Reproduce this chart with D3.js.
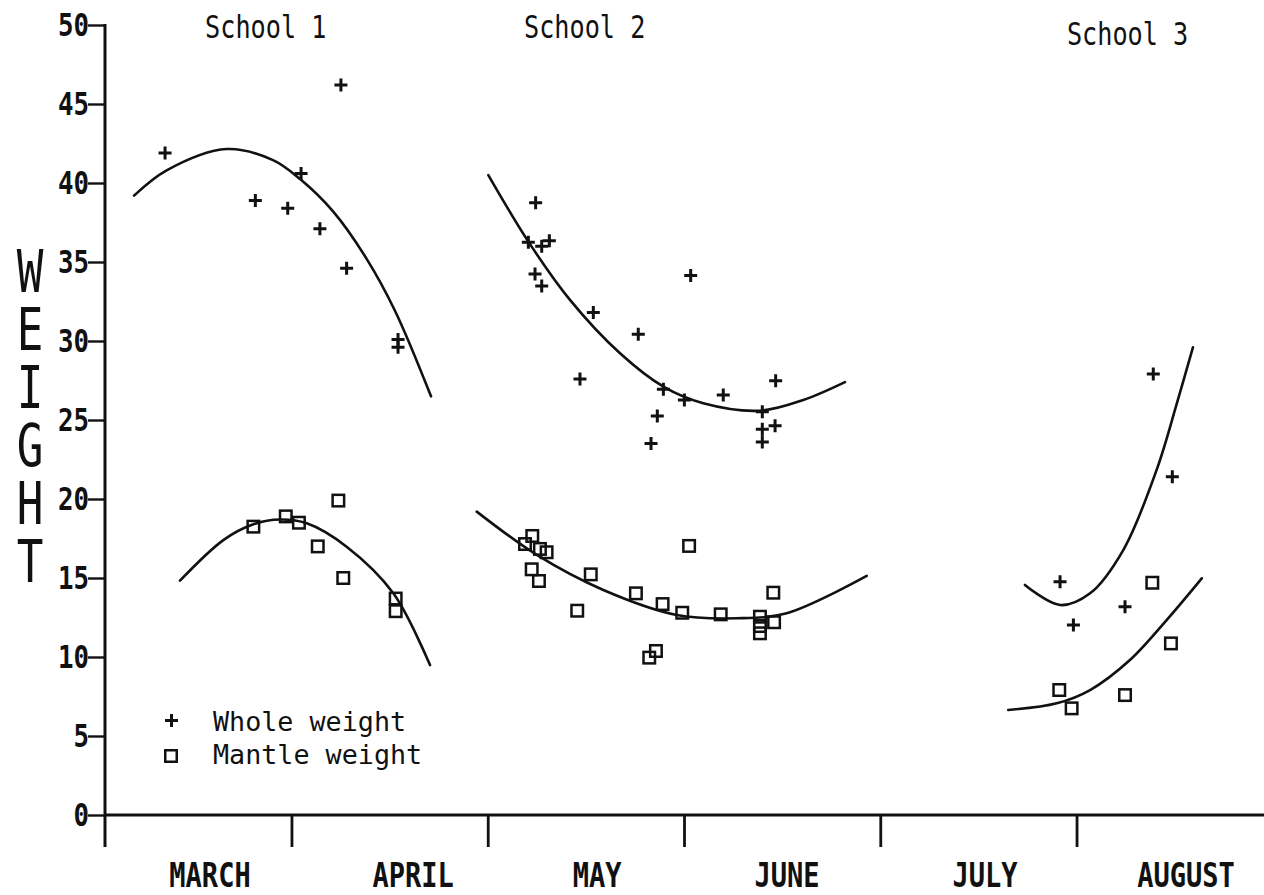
<!DOCTYPE html>
<html>
<head>
<meta charset="utf-8">
<script src="https://cdn.jsdelivr.net/npm/d3@7"></script>
<style>
  html, body { margin: 0; padding: 0; background: #fff; }
  svg { display: block; }
  text { font-family: "DejaVu Sans Mono", "Liberation Mono", monospace; fill: #111; }
</style>
</head>
<body>
<script>
// ---- Data (x in months: 3 = start of March, 4 = start of April, ...) ----
const yTicks = [0, 5, 10, 15, 20, 25, 30, 35, 40, 45, 50];
const monthBounds = [4, 5, 6, 7, 8];
const monthNames = ["MARCH", "APRIL", "MAY", "JUNE", "JULY", "AUGUST"];
const monthLabelAt = [3.585, 4.62, 5.557, 6.525, 7.534, 8.558];
const schoolNames = ["School 1", "School 2", "School 3"];
const schoolLabelAt = [3.56, 5.185, 7.951];
const yTitle = "WEIGHT";

// School 1
const s1WholeX = [3.356, 4.252, 4.049, 3.816, 3.981, 4.145, 4.281, 4.543, 4.543];
const s1WholeY = [41.9, 46.2, 40.6, 38.9, 38.4, 37.1, 34.6, 30.1, 29.6];
const s1MantleX = [3.806, 3.971, 4.038, 4.239, 4.134, 4.264, 4.531, 4.531];
const s1MantleY = [18.25, 18.9, 18.5, 19.9, 17.0, 15.0, 13.7, 12.9];
// School 2
const s2WholeX = [5.244, 5.207, 5.275, 5.314, 5.241, 5.275, 5.538, 5.767, 6.034, 5.470,
                  5.895, 6.002, 5.864, 5.832, 6.200, 6.399, 6.399, 6.399, 6.467, 6.464];
const s2WholeY = [38.75, 36.25, 36.0, 36.35, 34.24, 33.48, 31.81, 30.42, 34.14, 27.59,
                  26.94, 26.27, 25.25, 23.52, 26.58, 25.53, 24.41, 23.61, 27.49, 24.64];
const s2MantleX = [5.227, 5.190, 5.266, 5.300, 5.224, 5.261, 5.525, 5.456, 5.755, 5.891,
                   6.026, 5.991, 6.187, 5.857, 5.823, 6.455, 6.459, 6.387, 6.387, 6.387];
const s2MantleY = [17.66, 17.15, 16.84, 16.63, 15.55, 14.81, 15.23, 12.93, 14.03, 13.35,
                   17.03, 12.80, 12.70, 10.38, 9.96, 14.07, 12.20, 12.55, 11.96, 11.5];
// School 3
const s3WholeX = [8.391, 8.488, 7.916, 7.984, 8.247];
const s3WholeY = [27.91, 21.41, 14.77, 12.03, 13.18];
const s3MantleX = [8.386, 8.481, 7.912, 7.975, 8.247];
const s3MantleY = [14.70, 10.86, 7.91, 6.75, 7.59];

// Fitted curves
const c1WholeX = [3.198, 3.364, 3.670, 3.906, 4.044, 4.212, 4.383, 4.528, 4.711];
const c1WholeY = [39.2, 40.8, 42.15, 41.45, 40.25, 38.2, 35.2, 31.9, 26.5];
const c1MantleX = [3.432, 3.653, 3.806, 3.942, 4.078, 4.281, 4.519, 4.706];
const c1MantleY = [14.83, 17.4, 18.4, 18.7, 18.46, 16.98, 14.03, 9.49];
const c2WholeX = [5.003, 5.207, 5.419, 5.674, 5.895, 6.098, 6.387, 6.608, 6.820];
const c2WholeY = [40.5, 36.29, 32.6, 29.22, 27.11, 26.06, 25.59, 26.27, 27.4];
const c2MantleX = [4.944, 5.250, 5.589, 5.963, 6.269, 6.523, 6.931];
const c2MantleY = [19.2, 16.46, 14.24, 12.66, 12.45, 12.77, 15.13];
const c3WholeX = [7.737, 7.916, 8.069, 8.238, 8.408, 8.510, 8.593];
const c3WholeY = [14.56, 13.29, 14.03, 16.77, 21.84, 26.0, 29.6];
const c3MantleX = [7.652, 7.899, 8.069, 8.272, 8.459, 8.638];
const c3MantleY = [6.65, 7.07, 7.91, 9.81, 12.34, 14.98];

const legendLabels = ["Whole weight", "Mantle weight"];

// ---- Drawing ----
const W = 1264, H = 895;
const svg = d3.select("body").append("svg").attr("width", W).attr("height", H);
svg.append("rect").attr("width", W).attr("height", H).attr("fill", "#fff");

const x = d3.scaleLinear().domain([3.05, 8.95]).range([105, 1263]);
const y = d3.scaleLinear().domain([0, 50]).range([815, 25]);
const ink = "#111";

function stretchText(g, txt, px, py, size, sx, sy, anchor, weight) {
  return g.append("text")
    .attr("transform", `translate(${px},${py}) scale(${sx},${sy})`)
    .attr("text-anchor", anchor || "start")
    .style("font-size", size + "px")
    .style("font-weight", weight || "normal")
    .text(txt);
}

// Y axis ticks
const yAxis = d3.axisLeft(y).tickValues(yTicks).tickSize(17).tickSizeOuter(0).tickFormat("");
const gy = svg.append("g").attr("transform", "translate(105,0)").call(yAxis);
gy.select(".domain").remove();
gy.selectAll("line").attr("stroke", ink).attr("stroke-width", 2.4);
svg.append("line").attr("x1", 105).attr("x2", 105).attr("y1", y(50) - 1).attr("y2", 847)
  .attr("stroke", ink).attr("stroke-width", 3);
yTicks.forEach(v => {
  stretchText(svg, String(v), 89, y(v) + 11, 30, 0.86, 1.04, "end", "bold");
});

// X axis
const xAxis = d3.axisBottom(x).tickValues(monthBounds).tickSize(32).tickSizeOuter(0).tickFormat("");
const gx = svg.append("g").attr("transform", "translate(0,815)").call(xAxis);
gx.select(".domain").remove();
gx.selectAll("line").attr("stroke", ink).attr("stroke-width", 2.8);
svg.append("line").attr("x1", 105).attr("x2", 1264).attr("y1", 815).attr("y2", 815)
  .attr("stroke", ink).attr("stroke-width", 3);
monthNames.forEach((m, i) => {
  stretchText(svg, m, x(monthLabelAt[i]), 887, 33, 0.82, 1.0, "middle", "bold");
});

// Vertical WEIGHT label: a single text run set vertically, letters upright
svg.append("text")
  .attr("transform", "translate(30,238) scale(0.75,1)")
  .attr("text-anchor", "start")
  .style("font-size", "59px")
  .style("writing-mode", "vertical-rl")
  .style("text-orientation", "upright")
  .style("letter-spacing", "-10px")
  .text(yTitle);

// School labels
schoolNames.forEach((s, i) => {
  stretchText(svg, s, x(schoolLabelAt[i]), i === 2 ? 45 : 38, 30, 0.84, 1.05, "start");
});

// Curves
const line = d3.line().x(d => x(d[0])).y(d => y(d[1])).curve(d3.curveCatmullRom.alpha(0.5));
const curves = [
  [c1WholeX, c1WholeY], [c1MantleX, c1MantleY],
  [c2WholeX, c2WholeY], [c2MantleX, c2MantleY],
  [c3WholeX, c3WholeY], [c3MantleX, c3MantleY]
];
curves.forEach(([xs, ys]) => {
  svg.append("path").datum(xs.map((v, i) => [v, ys[i]]))
    .attr("d", line).attr("fill", "none").attr("stroke", ink).attr("stroke-width", 2.6)
    .attr("stroke-linecap", "round");
});

// Markers
function plus(g, cx, cy) {
  const h = 6.5;
  g.append("path").attr("d", `M${cx - h},${cy}H${cx + h}M${cx},${cy - h}V${cy + h}`)
    .attr("stroke", ink).attr("stroke-width", 3).attr("fill", "none");
}
function square(g, cx, cy) {
  const s = 11.5;
  g.append("rect").attr("x", cx - s / 2).attr("y", cy - s / 2).attr("width", s).attr("height", s)
    .attr("stroke", ink).attr("stroke-width", 2.5).attr("fill", "none");
}
const wholeSets = [[s1WholeX, s1WholeY], [s2WholeX, s2WholeY], [s3WholeX, s3WholeY]];
const mantleSets = [[s1MantleX, s1MantleY], [s2MantleX, s2MantleY], [s3MantleX, s3MantleY]];
const gm = svg.append("g");
wholeSets.forEach(([xs, ys]) => xs.forEach((v, i) => plus(gm, x(v), y(ys[i]))));
mantleSets.forEach(([xs, ys]) => xs.forEach((v, i) => square(gm, x(v), y(ys[i]))));

// Legend
plus(svg, 171.5, 720.5);
square(svg, 171, 756);
stretchText(svg, legendLabels[0], 213, 731, 27, 0.99, 1.0, "start");
stretchText(svg, legendLabels[1], 213, 764, 27, 0.99, 1.0, "start");
</script>
</body>
</html>
